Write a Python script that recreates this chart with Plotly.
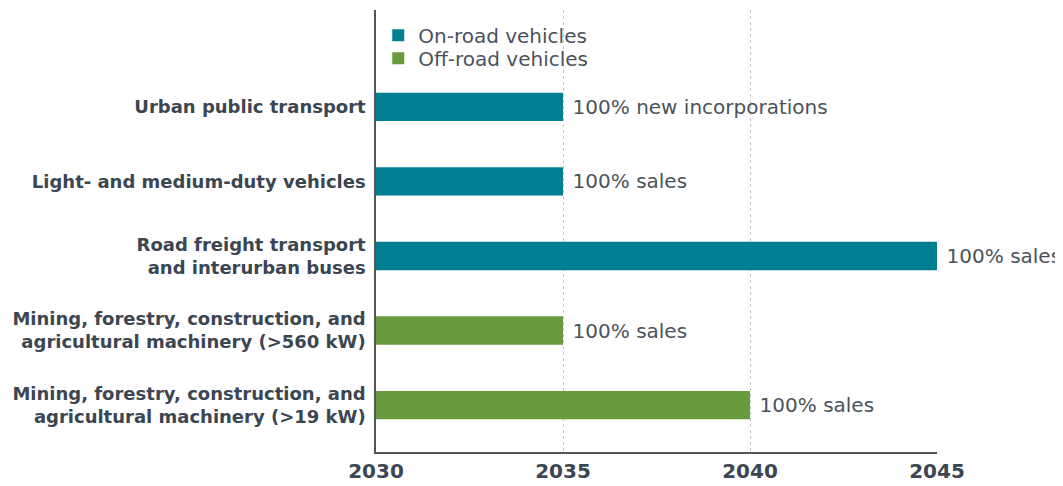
import plotly.graph_objects as go

categories = [
    "Urban public transport",
    "Light- and medium-duty vehicles",
    "Road freight transport<br>and interurban buses",
    "Mining, forestry, construction, and<br>agricultural machinery (>560 kW)",
    "Mining, forestry, construction, and<br>agricultural machinery (>19 kW)",
]
target_years = [2035, 2035, 2045, 2035, 2040]
bar_labels = ["100% new incorporations", "100% sales", "100% sales", "100% sales", "100% sales"]
groups = ["On-road vehicles", "On-road vehicles", "On-road vehicles", "Off-road vehicles", "Off-road vehicles"]
start_year = 2030
tick_years = [2030, 2035, 2040, 2045]

colors = {"On-road vehicles": "#007F92", "Off-road vehicles": "#6A9A3E"}
legend_ids = {"On-road vehicles": "legend", "Off-road vehicles": "legend2"}
FONT = "DejaVu Sans"

fig = go.Figure()
for g in ["On-road vehicles", "Off-road vehicles"]:
    idx = [i for i, gg in enumerate(groups) if gg == g]
    fig.add_trace(go.Bar(
        orientation="h",
        y=[categories[i] for i in idx],
        x=[target_years[i] - start_year for i in idx],
        base=start_year,
        name=g,
        legend=legend_ids[g],
        marker=dict(color=colors[g], line=dict(width=0)),
        text=["\u2004" + bar_labels[i] for i in idx],
        textposition="outside",
        textfont=dict(family=FONT, size=20, color="#4A535C"),
        cliponaxis=False,
        hoverinfo="skip",
    ))

legend_style = dict(x=0.004, xanchor="left", yanchor="middle",
                    font=dict(family=FONT, size=20, color="#4A535C"),
                    bgcolor="rgba(0,0,0,0)")

# the page body adds an 8px offset; sizes compensate so the plot lands in place
fig.update_layout(
    width=1055, height=478,
    margin=dict(l=368, r=126, t=2, b=34),
    paper_bgcolor="white", plot_bgcolor="white",
    barmode="overlay",
    bargap=0.62,
    showlegend=True,
    legend=dict(y=0.943, **legend_style),
    legend2=dict(y=0.891, **legend_style),
    font=dict(family=FONT),
)
fig.update_xaxes(
    range=[start_year, 2045], tickvals=tick_years, ticktext=[str(t) for t in tick_years],
    showgrid=True, gridcolor="#C8C8C8", griddash="dot", gridwidth=1,
    showline=True, linecolor="#555555", linewidth=1.5,
    zeroline=False, ticks="",
    tickfont=dict(family=FONT, size=20, color="#3B4652", weight="bold"),
)
fig.update_yaxes(
    categoryorder="array", categoryarray=categories[::-1],
    range=[-0.63, 5.3],
    showgrid=False, showline=True, linecolor="#555555", linewidth=1.5,
    ticks="", ticklabelstandoff=5,
    tickfont=dict(family=FONT, size=18, color="#3B4652", weight="bold"),
)

fig.write_html("out.html")
